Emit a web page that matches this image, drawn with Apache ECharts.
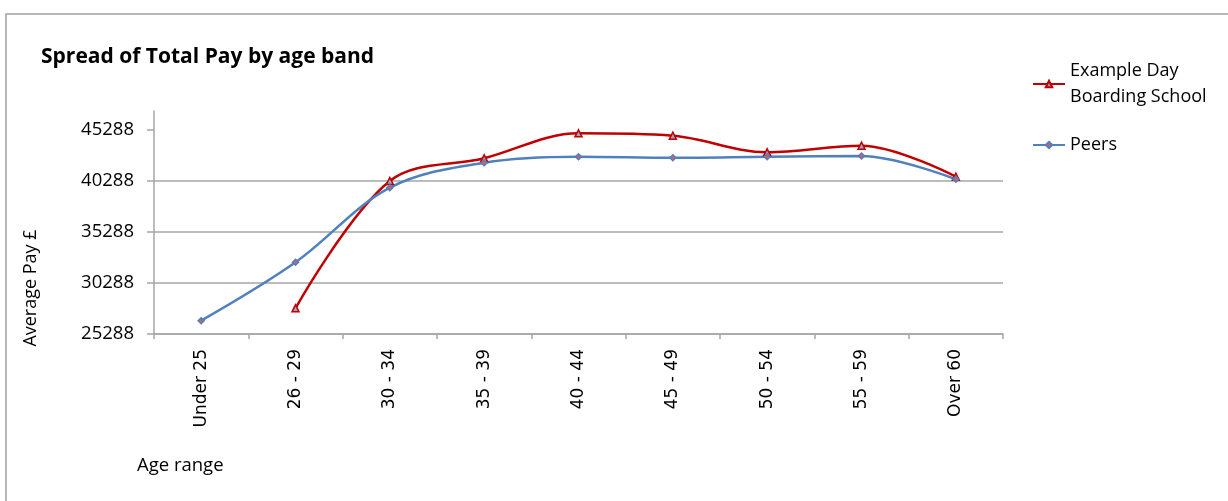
<!DOCTYPE html>
<html><head><meta charset="utf-8">
<script src="https://cdn.jsdelivr.net/npm/echarts@6/dist/echarts.min.js"></script>
<style>html,body{margin:0;padding:0;background:#fff;}#c{width:1228px;height:501px;}</style>
</head><body><div id="c"></div>
<script>
var categories = ['Under 25','26 - 29','30 - 34','35 - 39','40 - 44','45 - 49','50 - 54','55 - 59','Over 60'];
var schoolValues = [null, 27808, 40288, 42513, 44964, 44729, 43102, 43749, 40710];
var peerValues = [26592, 32317, 39631, 42082, 42670, 42572, 42670, 42739, 40455];
var yTicks = [25288, 30288, 35288, 40288, 45288];
var seriesNames = ['Example Day\nBoarding School', 'Peers'];

var chart = echarts.init(document.getElementById('c'));
var gridCol = '#A6A6A6';
var font = 'Open Sans';
chart.setOption({
  animation: false,
  backgroundColor: '#fff',
  title: {
    text: 'Spread of Total Pay by age band',
    left: 36, top: 42,
    textStyle: {fontFamily: font, fontWeight: 'bold', fontSize: 21, color: '#000'}
  },
  legend: {
    orient: 'vertical', left: 1027, top: 53,
    itemWidth: 32, itemHeight: 8, itemGap: 22,
    textStyle: {fontFamily: font, fontSize: 18, color: '#000', lineHeight: 26},
    data: seriesNames
  },
  grid: {left: 154, right: 225, top: 111, bottom: 167, containLabel: false},
  xAxis: {
    type: 'category', data: categories, boundaryGap: true,
    axisLine: {lineStyle: {color: gridCol, width: 1.5}},
    axisTick: {show: true, length: 5, lineStyle: {color: gridCol, width: 1.5}},
    axisLabel: {rotate: 90, margin: 15, fontFamily: 'DejaVu Sans', fontSize: 17, color: '#000'}
  },
  yAxis: {
    type: 'value', min: 25288, max: 47150, interval: 5000,
    axisLine: {show: true, lineStyle: {color: gridCol, width: 1.5}},
    axisTick: {show: true, length: 7, inside: false, customValues: yTicks, lineStyle: {color: gridCol, width: 1.5}},
    axisLabel: {customValues: yTicks, margin: 20, fontFamily: font, fontSize: 18.5, color: '#000',
      formatter: function (v) { return String(v); }},
    splitLine: {show: true, showMaxLine: false, lineStyle: {color: gridCol, width: 1.5}}
  },
  graphic: [
    {type: 'rect', shape: {x: 6, y: 14, width: 1300, height: 600}, style: {fill: 'none', stroke: '#A0A0A0', lineWidth: 1.5}, z: -1},
    {type: 'text', x: 31, y: 288, rotation: Math.PI/2, style: {text: 'Average Pay £', fontFamily: font, fontSize: 18, fill: '#000', align: 'center', verticalAlign: 'middle'}},
    {type: 'text', x: 137, y: 466, style: {text: 'Age range', fontFamily: font, fontSize: 18.5, fill: '#000', align: 'left', verticalAlign: 'middle'}}
  ],
  series: [
    {name: seriesNames[0], type: 'line', data: schoolValues, smooth: 0.35, connectNulls: false,
     symbol: 'triangle', symbolSize: 7, showAllSymbol: true,
     lineStyle: {color: '#C00000', width: 2.5},
     itemStyle: {color: '#8FA8D0', borderColor: '#C00000', borderWidth: 1.5}},
    {name: seriesNames[1], type: 'line', data: peerValues, smooth: 0.35,
     symbol: 'diamond', symbolSize: 6, showAllSymbol: true,
     lineStyle: {color: '#4F81BD', width: 2.5},
     itemStyle: {color: '#D06060', borderColor: '#4F81BD', borderWidth: 1.5}}
  ]
});
</script></body></html>
